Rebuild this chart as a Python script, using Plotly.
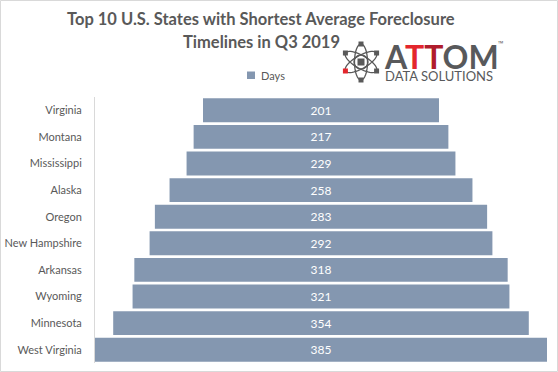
import math
import plotly.graph_objects as go

states = ["Virginia", "Montana", "Mississippi", "Alaska", "Oregon",
          "New Hampshire", "Arkansas", "Wyoming", "Minnesota", "West Virginia"]
days = [201, 217, 229, 258, 283, 292, 318, 321, 354, 385]
series_name = "Days"
title_lines = ["Top 10 U.S. States with Shortest Average Foreclosure", "Timelines in Q3 2019"]

W, H = 558, 372
ML, MR, MT, MB = 95, 11, 97, 9
PW, PH = W - ML - MR, H - MT - MB

def px(x):
    return (x - ML) / PW

def py(y):
    return (H - MB - y) / PH

FONT = "Lato, Open Sans, sans-serif"
GREY = "#595959"
BAR = "#8497b0"

fig = go.Figure()
fig.add_trace(go.Funnel(
    y=states, x=days, orientation="h",
    marker=dict(color=BAR, line=dict(width=0)),
    connector=dict(visible=False),
    textinfo="value", textposition="inside",
    textfont=dict(color="white", size=12, family=FONT),
    insidetextanchor="middle",
    showlegend=False, hoverinfo="y+x",
))

shapes = []
annotations = []

# outer border
shapes.append(dict(type="rect", xref="paper", yref="paper",
                   x0=px(0.5), x1=px(W - 0.5), y0=py(0.5), y1=py(H - 0.5),
                   line=dict(color="#d9d9d9", width=1), fillcolor="rgba(0,0,0,0)", layer="below"))

# title
for i, line in enumerate(title_lines):
    annotations.append(dict(text="<b>%s</b>" % line, xref="paper", yref="paper",
                            x=px(261), y=py(19 + 23 * i), xanchor="center", yanchor="middle",
                            showarrow=False, font=dict(family=FONT, size=16.5, color=GREY)))

# legend
shapes.append(dict(type="rect", xref="paper", yref="paper",
                   x0=px(247), x1=px(255), y0=py(71.5), y1=py(79), fillcolor=BAR, line=dict(width=0)))
annotations.append(dict(text=series_name, xref="paper", yref="paper", x=px(259), y=py(75),
                        xanchor="left", yanchor="middle", showarrow=False,
                        font=dict(family=FONT, size=11, color=GREY)))

# logo text
annotations.append(dict(text="<b>A<span style='color:#e3262d'>T</span><span style='color:#b01c2c'>T</span>OM</b>",
                        xref="paper", yref="paper", x=px(382), y=py(56), xanchor="left", yanchor="middle",
                        showarrow=False, font=dict(family=FONT, size=32, color="#58595b")))
annotations.append(dict(text="™", xref="paper", yref="paper", x=px(496), y=py(43), xanchor="left",
                        yanchor="middle", showarrow=False, font=dict(size=7, color="#58595b")))
annotations.append(dict(text="DATA SOLUTIONS", xref="paper", yref="paper", x=px(383), y=py(76.5),
                        xanchor="left", yanchor="middle", showarrow=False,
                        font=dict(family=FONT, size=13, color="#58595b")))

# logo atom icon
cx, cy = 361, 62
a, b = 18, 6.5
for ang in (90, 30, -30):
    t = math.radians(ang)
    pts = []
    for k in range(49):
        th = 2 * math.pi * k / 48
        ex, ey = a * math.cos(th), b * math.sin(th)
        X = cx + ex * math.cos(t) - ey * math.sin(t)
        Y = cy - (ex * math.sin(t) + ey * math.cos(t))
        pts.append("%.5f,%.5f" % (px(X), py(Y)))
    shapes.append(dict(type="path", xref="paper", yref="paper",
                       path="M" + " L".join(pts) + " Z", line=dict(color=GREY, width=1.3)))
    for sgn in (1, -1):
        nx = cx + sgn * a * math.cos(t)
        ny = cy - sgn * a * math.sin(t)
        col = "#e3262d" if (ang == 30 and sgn == -1) else GREY
        shapes.append(dict(type="rect", xref="paper", yref="paper",
                           x0=px(nx - 2.5), x1=px(nx + 2.5), y0=py(ny - 2.5), y1=py(ny + 2.5),
                           fillcolor=col, line=dict(width=0)))
shapes.append(dict(type="circle", xref="paper", yref="paper",
                   x0=px(cx - 7), x1=px(cx + 7), y0=py(cy - 7), y1=py(cy + 7),
                   line=dict(color=GREY, width=1.3)))
shapes.append(dict(type="rect", xref="paper", yref="paper",
                   x0=px(cx - 3.5), x1=px(cx + 3.5), y0=py(cy - 3.5), y1=py(cy + 3.5),
                   fillcolor=GREY, line=dict(width=0)))

half = max(days) / 2
fig.update_layout(
    width=W, height=H,
    margin=dict(l=ML, r=MR, t=MT, b=MB, autoexpand=False),
    paper_bgcolor="white", plot_bgcolor="white",
    funnelgap=0.1,
    xaxis=dict(visible=False, range=[-half, half], fixedrange=True, automargin=False),
    yaxis=dict(showline=True, linecolor="#d9d9d9", linewidth=1, ticks="",
               tickfont=dict(family=FONT, size=11, color=GREY), ticklabelstandoff=10,
               showgrid=False, zeroline=False, automargin=False,
               range=[len(states) - 0.5, -0.5]),
    shapes=shapes, annotations=annotations,
    showlegend=False,
)

fig.write_html("out.html", config={"displayModeBar": False},
               post_script="document.body.style.margin='0';document.body.style.padding='0';")
